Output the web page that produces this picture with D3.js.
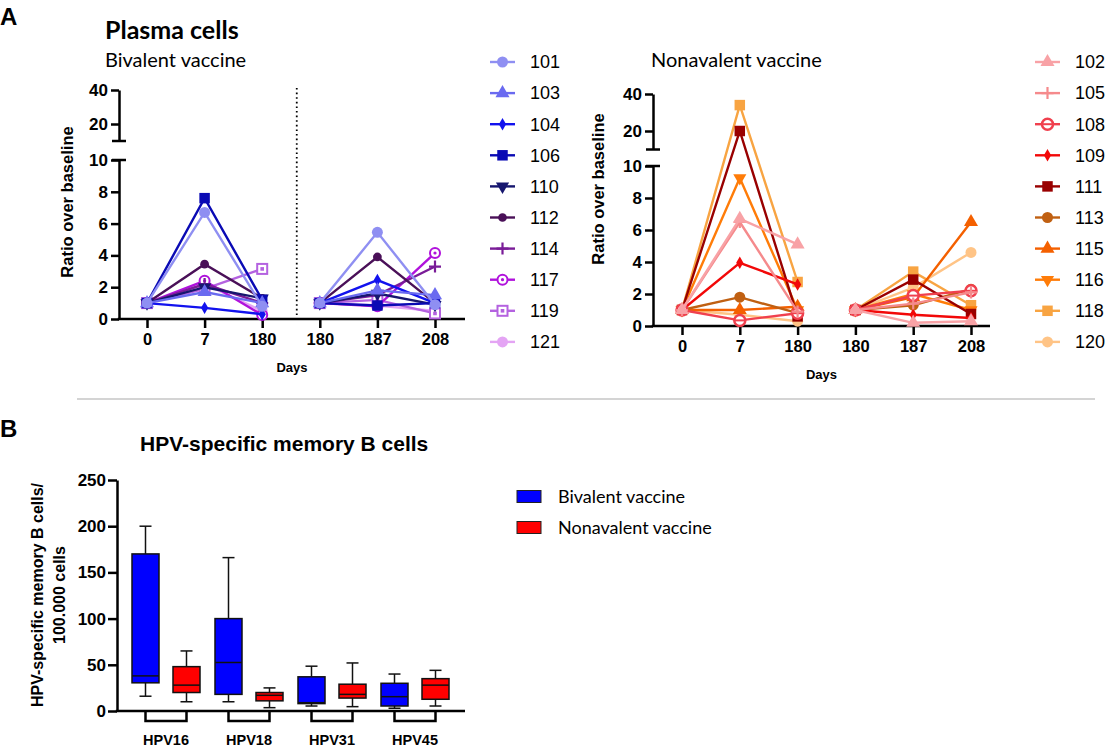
<!DOCTYPE html>
<html>
<head>
<meta charset="utf-8">
<script src="https://cdn.jsdelivr.net/npm/d3@7"></script>
<style>
  body { margin: 0; background: #fff; }
  text { font-family: "Liberation Sans", Arial, sans-serif; fill: #000; }
  .soft { font-family: Lato, "Open Sans", sans-serif; }
</style>
</head>
<body>
<svg id="fig" width="1116" height="749"></svg>
<script>
// ---- data ----
const dayLabels = ['0', '7', '180', '180', '187', '208'];

const bivalentIds = ['101', '103', '104', '106', '110', '112', '114', '117', '119', '121'];
// ratio at day 0, 7, 180 (first dose)
const bivalentFirst = [
  [1, 6.7, 0.8], [1, 1.7, 1.0], [1, 0.7, 0.3], [1, 7.6, 1.2], [1, 2.0, 1.3],
  [1, 3.45, 1.3], [1, 2.2, 1.0], [1, 2.4, 0.25], [1, 1.9, 3.15], [1, 2.2, 0.5]
];
// ratio at day 180, 187, 208 (second dose)
const bivalentSecond = [
  [1, 5.45, 0.9], [1, 1.8, 1.5], [1, 2.45, 1.0], [1, 0.85, 1.0], [1, 1.6, 0.9],
  [1, 3.9, 1.0], [1, 1.5, 3.3], [1, 0.8, 4.15], [1, 1.2, 0.35], [1, 0.85, 0.5]
];

const nonavalentIds = ['102', '105', '108', '109', '111', '113', '115', '116', '118', '120'];
const nonavalentFirst = [
  [1, 6.7, 5.1], [1, 6.5, 0.9], [1, 0.35, 0.8], [1, 3.95, 2.6], [1, 20, 0.6],
  [1, 1.8, 0.8], [1, 1.0, 1.2], [1, 9.25, 1.0], [1, 34, 2.75], [1, 0.7, 0.3]
];
const nonavalentSecond = [
  [1, 0.2, 0.3], [1, 1.4, 2.1], [1, 1.9, 2.2], [1, 0.7, 0.5], [1, 2.9, 0.75],
  [1, 1.3, 2.3], [1, 1.8, 6.5], [1, 2.0, 1.0], [1, 3.4, 1.3], [1, 2.4, 4.6]
];

const yLowTicks = [0, 2, 4, 6, 8, 10];
const yHighTicks = [20, 40];

const hpvTypes = ['HPV16', 'HPV18', 'HPV31', 'HPV45'];
// [min, q1, median, q3, max] per HPV type
const bivalentBox = [[16, 30.5, 38, 170, 200], [10, 18, 52.5, 100, 166], [5.4, 8, 9, 37, 48.5], [3, 5.4, 15.5, 30, 40]];
const nonavalentBox = [[10, 20, 28, 48, 65], [3.6, 11, 17, 20, 25], [4.7, 14, 18, 29, 52], [5.4, 12.7, 28, 35, 44]];
const boxTicks = [0, 50, 100, 150, 200, 250];

// ---- styles ----
const bivalentColors = ['#8f8ff2', '#6a6af0', '#1212ee', '#0a0ab4', '#16166e', '#4a1058', '#7a1c98', '#b012dc', '#b462e0', '#e4a4f4'];
const bivalentShapes = ['circle', 'triangle', 'diamond', 'square', 'triangleDown', 'dot', 'plus', 'ringDot', 'squareOpen', 'circle'];
const nonavalentColors = ['#f8a2a6', '#f58a8c', '#f0404e', '#f20808', '#990000', '#c06012', '#f46000', '#ff7c08', '#f8a442', '#ffc486'];
const nonavalentShapes = ['triangle', 'plus', 'ring', 'diamond', 'square', 'circle', 'triangle', 'triangleDown', 'square', 'circle'];

const svg = d3.select('#fig');

function drawMarker(parent, shape, color, cx, cy) {
  const g = parent.append('g').attr('transform', `translate(${cx},${cy})`);
  const sym = (type, size) => d3.symbol(type, size)();
  if (shape === 'circle') g.append('path').attr('d', sym(d3.symbolCircle, 95)).attr('fill', color);
  else if (shape === 'dot') g.append('path').attr('d', sym(d3.symbolCircle, 60)).attr('fill', color);
  else if (shape === 'triangle') g.append('path').attr('d', sym(d3.symbolTriangle, 85)).attr('fill', color);
  else if (shape === 'triangleDown') g.append('path').attr('d', sym(d3.symbolTriangle, 75)).attr('fill', color).attr('transform', 'rotate(180)');
  else if (shape === 'diamond') g.append('path').attr('d', sym(d3.symbolDiamond, 45)).attr('fill', color);
  else if (shape === 'square') g.append('path').attr('d', sym(d3.symbolSquare, 110)).attr('fill', color);
  else if (shape === 'plus') g.append('path').attr('d', 'M-6,0H6M0,-6V6').attr('stroke', color).attr('stroke-width', 2.2);
  else if (shape === 'ringDot') {
    g.append('circle').attr('r', 5).attr('fill', '#fff').attr('stroke', color).attr('stroke-width', 2);
    g.append('circle').attr('r', 1.6).attr('fill', color);
  } else if (shape === 'squareOpen') {
    g.append('rect').attr('x', -5).attr('y', -5).attr('width', 10).attr('height', 10).attr('fill', '#fff').attr('stroke', color).attr('stroke-width', 2);
    g.append('rect').attr('x', -1.8).attr('y', -1.8).attr('width', 3.6).attr('height', 3.6).attr('fill', color);
  } else if (shape === 'ring') {
    g.append('circle').attr('r', 5.5).attr('fill', '#fff').attr('stroke', color).attr('stroke-width', 2.5);
    g.append('path').attr('d', 'M-5,0H5').attr('stroke', color).attr('stroke-width', 2);
  }
}

function styleAxis(sel, fontSize) {
  sel.select('.domain').attr('stroke', '#000').attr('stroke-width', 2.5);
  sel.selectAll('.tick line').attr('stroke', '#000').attr('stroke-width', 2.5);
  sel.selectAll('.tick text').attr('fill', '#000').attr('font-size', fontSize).attr('font-weight', 'bold')
    .attr('font-family', '"Liberation Sans", Arial, sans-serif');
}

function linePanel(o) {
  const g = svg.append('g');
  const x = d3.scalePoint().domain(d3.range(dayLabels.length)).range([o.x0, o.x1]);
  const yLow = d3.scaleLinear().domain([0, 10]).range([o.y0, o.y10]);
  const yHigh = d3.scaleLinear().domain([10, 40]).range([o.yBreak, o.y40]);
  const y = v => v <= 10 ? yLow(v) : yHigh(v);

  // y axis, two segments
  g.append('g').attr('transform', `translate(${o.axisX},0)`)
    .call(d3.axisLeft(yLow).tickValues(yLowTicks).tickSize(8).tickSizeOuter(0).tickPadding(3))
    .call(s => styleAxis(s, 17));
  g.append('g').attr('transform', `translate(${o.axisX},0)`)
    .call(d3.axisLeft(yHigh).tickValues(yHighTicks).tickSize(8).tickSizeOuter(0).tickPadding(3))
    .call(s => styleAxis(s, 17));
  [yLow(10), yHigh(10)].forEach(yy => {
    g.append('line').attr('x1', o.axisX - 7).attr('x2', o.axisX + 7).attr('y1', yy).attr('y2', yy)
      .attr('stroke', '#000').attr('stroke-width', 2.5);
  });

  // x axis
  g.append('g').attr('transform', `translate(0,${o.y0})`)
    .call(d3.axisBottom(x).tickFormat(i => dayLabels[i]).tickSize(9).tickPadding(5))
    .call(s => s.select('.domain').remove())
    .call(s => styleAxis(s, 16.5));
  g.append('line').attr('x1', o.axisX - 1.25).attr('x2', o.xEnd).attr('y1', o.y0).attr('y2', o.y0)
    .attr('stroke', '#000').attr('stroke-width', 2.5);

  if (o.divider) {
    const dx = x(2) + (x(3) - x(2)) * 0.6;
    g.append('line').attr('x1', dx).attr('x2', dx).attr('y1', o.y40 - 2).attr('y2', o.y0 - 2)
      .attr('stroke', '#000').attr('stroke-width', 1.8).attr('stroke-dasharray', '1.6,3');
  }

  // series
  const line = d3.line().x(d => x(d[0])).y(d => y(d[1]));
  for (let i = o.ids.length - 1; i >= 0; i--) {
    const c = o.colors[i];
    [[0, o.first[i]], [3, o.second[i]]].forEach(([off, vals]) => {
      const pts = vals.map((v, k) => [off + k, v]);
      g.append('path').attr('d', line(pts)).attr('fill', 'none').attr('stroke', c).attr('stroke-width', 2.4);
      pts.forEach(p => drawMarker(g, o.shapes[i], c, x(p[0]), y(p[1])));
    });
  }

  // labels
  g.append('text').attr('transform', `translate(${o.labelX},${o.labelY}) rotate(-90)`)
    .attr('text-anchor', 'middle').attr('font-size', 16.5).attr('font-weight', 'bold').text('Ratio over baseline');
  g.append('text').attr('x', (o.axisX + o.xEnd) / 2).attr('y', o.y0 + 53).attr('text-anchor', 'middle')
    .attr('font-size', 13).attr('font-weight', 'bold').text('Days');
  g.append('text').attr('class', 'soft').attr('x', o.subX).attr('y', 67).attr('font-size', 20).text(o.subtitle);

  // legend
  o.ids.forEach((id, i) => {
    const ly = 62 + i * 31.1;
    g.append('line').attr('x1', o.legX).attr('x2', o.legX + 25).attr('y1', ly).attr('y2', ly)
      .attr('stroke', o.colors[i]).attr('stroke-width', 2.4);
    drawMarker(g, o.shapes[i], o.colors[i], o.legX + 12.5, ly);
    g.append('text').attr('x', o.legX + 40).attr('y', ly).attr('dy', '0.35em').attr('font-size', 18).text(id);
  });
}

// panel A
svg.append('text').attr('x', 0).attr('y', 25).attr('font-size', 24).attr('font-weight', 'bold').text('A');
svg.append('text').attr('class', 'soft').attr('x', 105).attr('y', 39).attr('font-size', 25).attr('font-weight', 'bold').text('Plasma cells');

linePanel({
  ids: bivalentIds, first: bivalentFirst, second: bivalentSecond, colors: bivalentColors, shapes: bivalentShapes,
  axisX: 119, x0: 147, x1: 435, xEnd: 465, y0: 319, y10: 160, yBreak: 141, y40: 90,
  divider: true, labelX: 73, labelY: 202, subX: 105, subtitle: 'Bivalent vaccine', legX: 490
});
linePanel({
  ids: nonavalentIds, first: nonavalentFirst, second: nonavalentSecond, colors: nonavalentColors, shapes: nonavalentShapes,
  axisX: 653, x0: 682, x1: 971, xEnd: 990, y0: 326, y10: 166, yBreak: 149.5, y40: 94,
  divider: false, labelX: 604, labelY: 189, subX: 651, subtitle: 'Nonavalent vaccine', legX: 1035
});

// separator
svg.append('line').attr('x1', 77).attr('x2', 1095).attr('y1', 399).attr('y2', 399).attr('stroke', '#aaa').attr('stroke-width', 1.2);

// panel B
svg.append('text').attr('x', 0).attr('y', 437).attr('font-size', 24).attr('font-weight', 'bold').text('B');
svg.append('text').attr('x', 140).attr('y', 451).attr('font-size', 21).attr('font-weight', 'bold').text('HPV-specific memory B cells');

(function () {
  const g = svg.append('g');
  const x = d3.scalePoint().domain(hpvTypes).range([166, 415]);
  const y = d3.scaleLinear().domain([0, 250]).range([711, 480]);
  const off = 20.5, bw = 27;

  g.append('g').attr('transform', 'translate(117,0)')
    .call(d3.axisLeft(y).tickValues(boxTicks).tickSize(9).tickSizeOuter(0).tickPadding(2))
    .call(s => styleAxis(s, 17));
  g.append('line').attr('x1', 115.75).attr('x2', 465).attr('y1', 711).attr('y2', 711).attr('stroke', '#000').attr('stroke-width', 2.5);

  const groups = [[bivalentBox, -off, '#0000ff'], [nonavalentBox, off, '#ff0000']];
  groups.forEach(([data, dx, fill]) => {
    data.forEach((b, i) => {
      const cx = x(hpvTypes[i]) + dx;
      const [mn, q1, md, q3, mx] = b;
      g.append('line').attr('x1', cx).attr('x2', cx).attr('y1', y(mx)).attr('y2', y(mn)).attr('stroke', '#111').attr('stroke-width', 1.5);
      [mn, mx].forEach(v => g.append('line').attr('x1', cx - 6).attr('x2', cx + 6).attr('y1', y(v)).attr('y2', y(v))
        .attr('stroke', '#111').attr('stroke-width', 1.5));
      g.append('rect').attr('x', cx - bw / 2).attr('y', y(q3)).attr('width', bw).attr('height', y(q1) - y(q3))
        .attr('fill', fill).attr('stroke', '#111').attr('stroke-width', 1.5);
      g.append('line').attr('x1', cx - bw / 2).attr('x2', cx + bw / 2).attr('y1', y(md)).attr('y2', y(md))
        .attr('stroke', '#111').attr('stroke-width', 1.5);
    });
  });

  hpvTypes.forEach(t => {
    const cx = x(t);
    g.append('path').attr('d', `M${cx - off},711V721H${cx + off}V711`).attr('fill', 'none').attr('stroke', '#000').attr('stroke-width', 2.5);
    g.append('text').attr('x', cx).attr('y', 745).attr('text-anchor', 'middle').attr('font-size', 14.5).attr('font-weight', 'bold').text(t);
  });

  const yl = g.append('g').attr('transform', 'translate(0,595) rotate(-90)');
  yl.append('text').attr('x', 0).attr('y', 43).attr('text-anchor', 'middle').attr('font-size', 16).attr('font-weight', 'bold').text('HPV-specific memory B cells/');
  yl.append('text').attr('x', 0).attr('y', 65).attr('text-anchor', 'middle').attr('font-size', 16).attr('font-weight', 'bold').text('100.000 cells');

  // legend
  [['Bivalent vaccine', '#0000ff', 496.5], ['Nonavalent vaccine', '#ff0000', 527.5]].forEach(([label, fill, ly]) => {
    g.append('rect').attr('x', 517).attr('y', ly - 6).attr('width', 24).attr('height', 12).attr('fill', fill).attr('stroke', '#222').attr('stroke-width', 1);
    g.append('text').attr('class', 'soft').attr('x', 558).attr('y', ly).attr('dy', '0.35em').attr('font-size', 18).text(label);
  });
})();
</script>
</body>
</html>
